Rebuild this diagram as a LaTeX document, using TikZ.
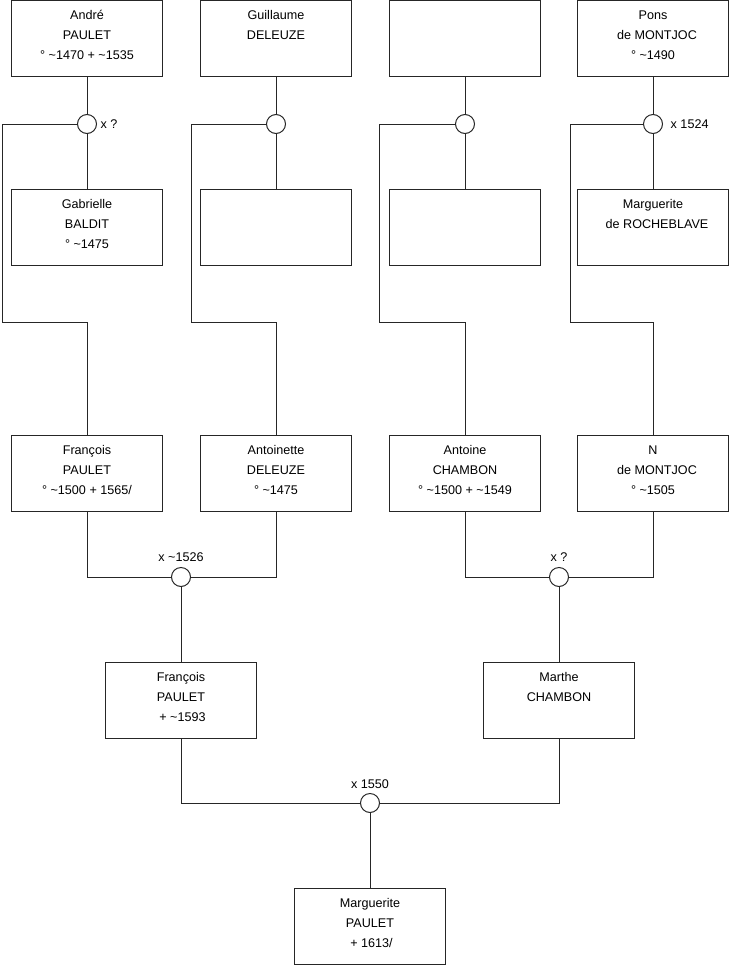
\documentclass[tikz,border=0pt]{standalone}
\usepackage{fontspec}
\setmainfont{Liberation Sans}
\begin{document}
\begin{tikzpicture}[x=1pt,y=-1pt,
  pbox/.style={draw=black!85, line width=1pt, fill=white, minimum width=151pt, minimum height=76pt, inner sep=0pt, anchor=north west},
  ptext/.style={anchor=north, inner sep=0pt, align=center, font=\fontsize{12.6}{20}\selectfont},
  ring/.style={circle, draw=black!85, line width=1pt, fill=white, minimum size=19pt, inner sep=0pt},
  lbl/.style={inner sep=0pt, font=\fontsize{12.6}{14}\selectfont},
  conn/.style={draw=black!85, line width=1pt}]
\useasboundingbox (0,0) rectangle (740,975);
\newcommand\person[3]{%
  \node[pbox] (#1) at (#2) {};
  \node[ptext] (#1t) at ([yshift=-5.5pt]#1.north) {#3};}
% row 1
\person{a1}{11,0}{\strut André\\\strut PAULET\\\strut ° \textasciitilde 1470 + \textasciitilde 1535}
\person{a2}{200,0}{\strut Guillaume\\\strut DELEUZE}
\person{a3}{389,0}{}
\person{a4}{577,0}{\strut Pons\\\strut \hspace*{8pt}de MONTJOC\\\strut ° \textasciitilde 1490}
% row 2
\person{s1}{11,189}{\strut Gabrielle\\\strut BALDIT\\\strut ° \textasciitilde 1475}
\person{s2}{200,189}{}
\person{s3}{389,189}{}
\person{s4}{577,189}{\strut Marguerite\\\strut \hspace*{8pt}de ROCHEBLAVE}
% row 3
\person{m1}{11,435}{\strut François\\\strut PAULET\\\strut ° \textasciitilde 1500 + 1565/}
\person{m2}{200,435}{\strut Antoinette\\\strut DELEUZE\\\strut ° \textasciitilde 1475}
\person{m3}{389,435}{\strut Antoine\\\strut CHAMBON\\\strut ° \textasciitilde 1500 + \textasciitilde 1549}
\person{m4}{577,435}{\strut N\\\strut \hspace*{8pt}de MONTJOC\\\strut ° \textasciitilde 1505}
% row 4
\person{f1}{105,662}{\strut François\\\strut PAULET\\\strut \hspace*{3pt}+ \textasciitilde 1593}
\person{f2}{483,662}{\strut Marthe\\\strut CHAMBON}
% row 5
\person{g1}{294,888}{\strut Marguerite\\\strut PAULET\\\strut \hspace*{3pt}+ 1613/}
% rings
\node[ring] (c1) at (a1.south |- 0,124) {};
\node[ring] (c2) at (a2.south |- 0,124) {};
\node[ring] (c3) at (a3.south |- 0,124) {};
\node[ring] (c4) at (a4.south |- 0,124) {};
\node[ring] (c5) at (f1.north |- 0,577) {};
\node[ring] (c6) at (f2.north |- 0,577) {};
\node[ring] (c7) at (g1.north |- 0,803) {};
% turning points
\coordinate (k1) at (2,124);   \coordinate (k1b) at (2,322);
\coordinate (k2) at (191,124); \coordinate (k2b) at (191,322);
\coordinate (k3) at (379,124); \coordinate (k3b) at (379,322);
\coordinate (k4) at (570,124); \coordinate (k4b) at (570,322);
% connectors row 1-2
\foreach \i in {1,2,3,4}{
  \draw[conn] (a\i.south) -- (c\i.north);
  \draw[conn] (c\i.south) -- (s\i.north);
  \draw[conn] (c\i.west) -- (k\i) -- (k\i b) -| (m\i.north);
}
% connectors row 3-4
\draw[conn] (m1.south) |- (c5.west);
\draw[conn] (m2.south) |- (c5.east);
\draw[conn] (c5.south) -- (f1.north);
\draw[conn] (m3.south) |- (c6.west);
\draw[conn] (m4.south) |- (c6.east);
\draw[conn] (c6.south) -- (f2.north);
% connectors row 4-5
\draw[conn] (f1.south) |- (c7.west);
\draw[conn] (f2.south) |- (c7.east);
\draw[conn] (c7.south) -- (g1.north);
% labels
\node[lbl, anchor=west] (l1) at ([xshift=3.5pt]c1.east) {x ?};
\node[lbl, anchor=west] (l4) at ([xshift=7.5pt]c4.east) {x 1524};
\node[lbl, anchor=base] (l5) at ([yshift=5.5pt]c5.north) {x \textasciitilde 1526};
\node[lbl, anchor=base] (l6) at ([yshift=5.5pt]c6.north) {x ?};
\node[lbl, anchor=base] (l7) at ([yshift=4.5pt]c7.north) {x 1550};
\end{tikzpicture}
\end{document}
